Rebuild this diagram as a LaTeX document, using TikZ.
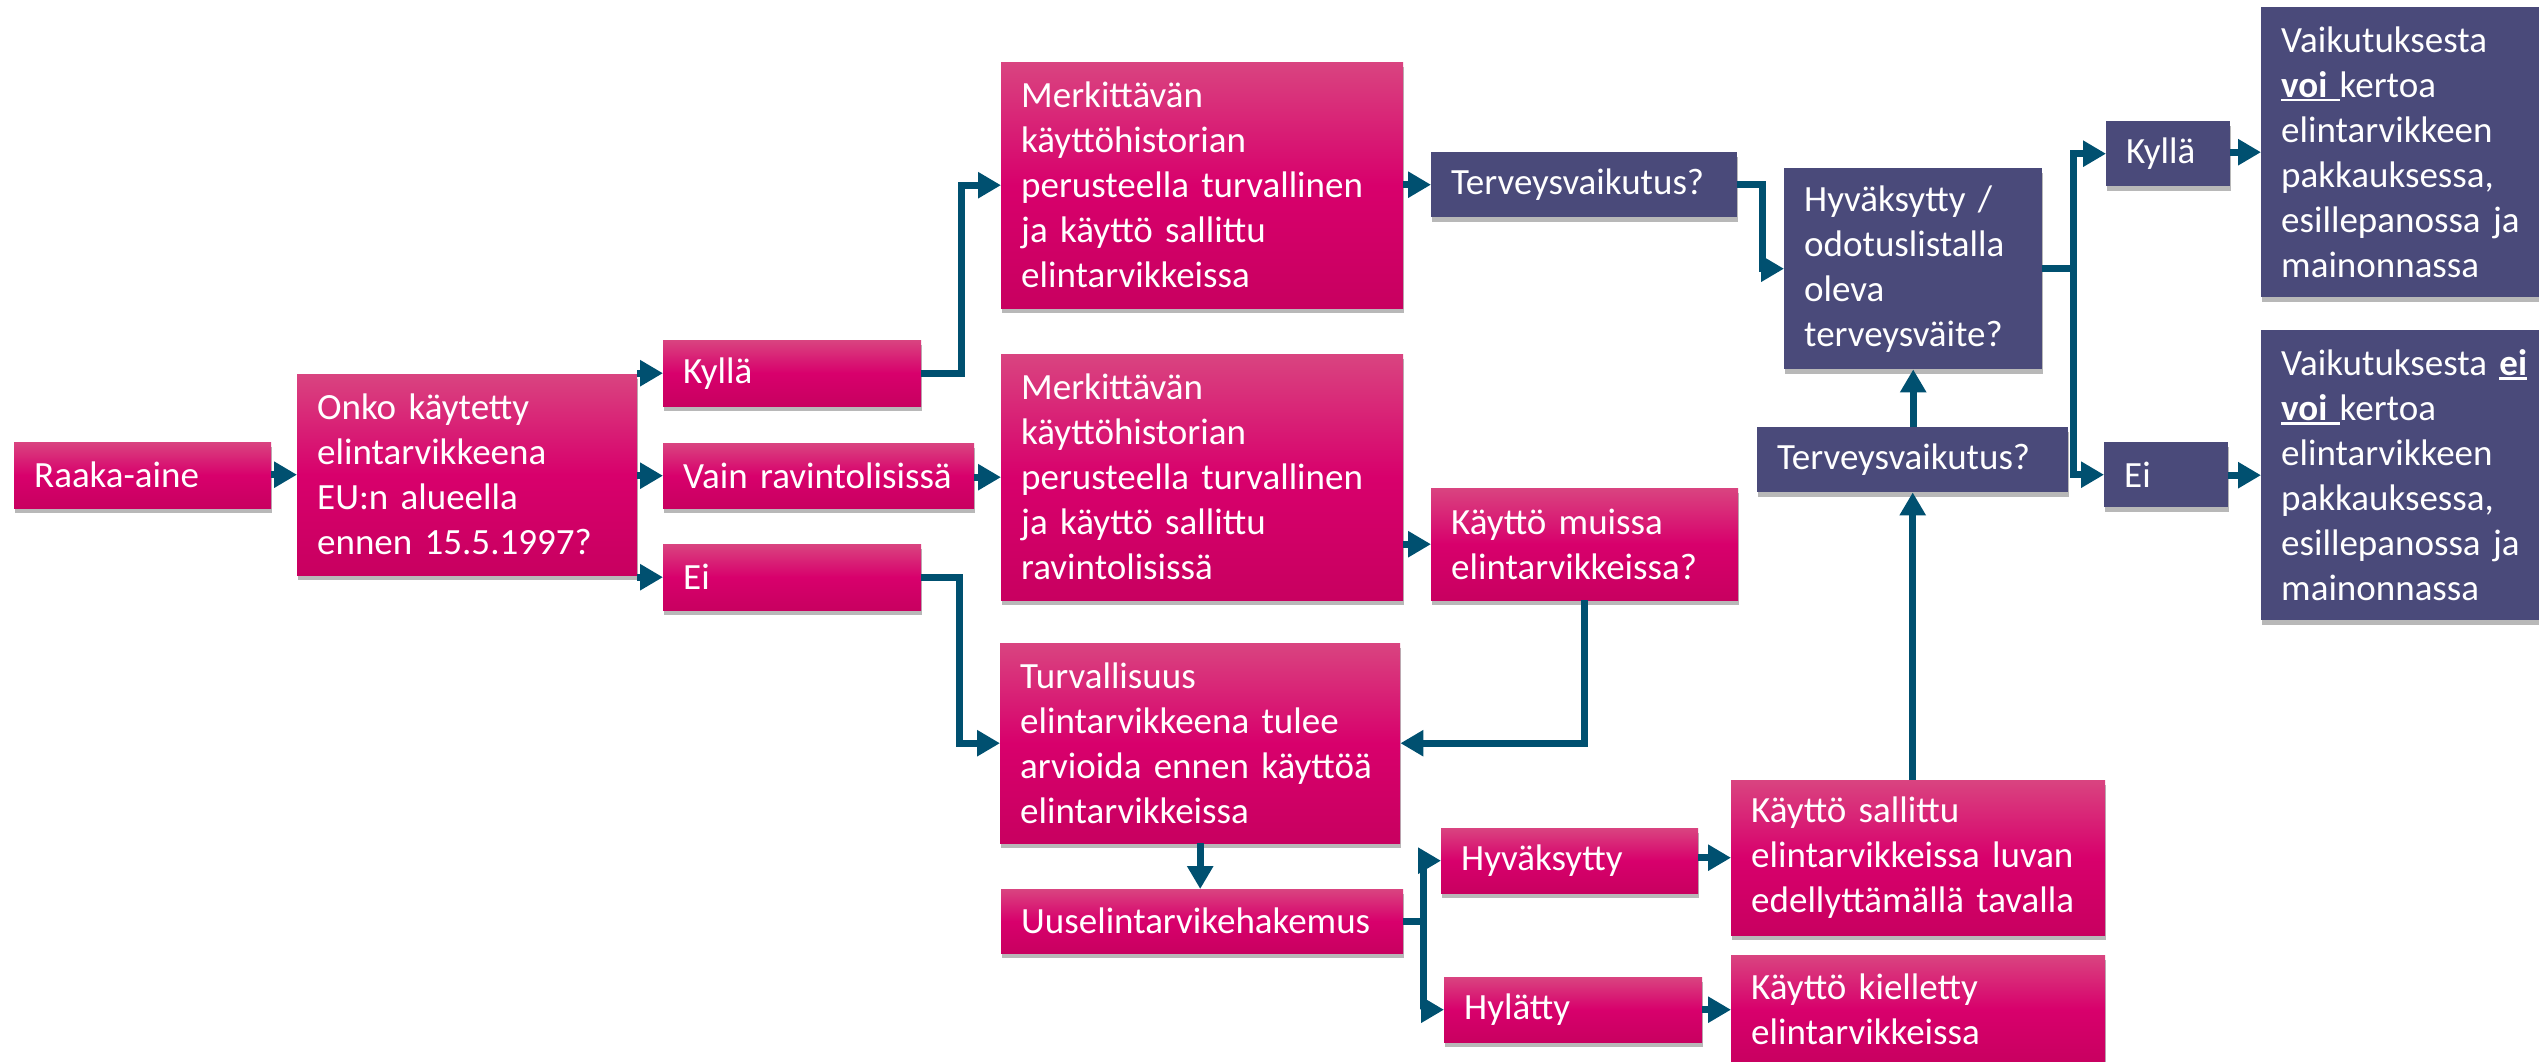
\documentclass[tikz,border=0pt]{standalone}
\usepackage{fontspec}
\setmainfont{Carlito}
\usepackage{xcolor}
\usepackage{tikz}
\usetikzlibrary{shadows}
\usetikzlibrary{arrows.meta}
\usetikzlibrary{calc}
\definecolor{magtop}{RGB}{217,68,128}
\definecolor{magmid}{RGB}{216,0,108}
\definecolor{magbot}{RGB}{200,0,96}
\definecolor{slate}{RGB}{74,74,122}
\definecolor{linkblue}{RGB}{0,80,112}
\tikzstyle{flowbox}=[rectangle,anchor=north west,inner xsep=20pt,inner ysep=0pt,align=left,text=white,font=\fontsize{37}{45}\selectfont,drop shadow={shadow xshift=1pt,shadow yshift=-5pt,opacity=0.28,fill=black}]
\tikzstyle{pinkbox}=[flowbox,top color=magtop,bottom color=magbot,middle color=magmid]
\tikzstyle{slatebox}=[flowbox,fill=slate]
\tikzstyle{link}=[draw,line width=7pt,linkblue,-{Triangle[length=23pt,width=25pt]}]
\newcommand{\ulbold}[1]{\leavevmode\setbox0\hbox{\textbf{#1}}\rlap{\rule[-4pt]{\wd0}{2.5pt}}\box0}

\begin{document}
\begin{tikzpicture}[x=1pt,y=-1pt]

   \useasboundingbox (0,0) rectangle (2539,1061);
   \clip (0,0) rectangle (2539,1061);

   % left column
   \node[pinkbox, text width=217pt, minimum height=66pt] (raaka) at (14,442) {Raaka-aine};
   \node[pinkbox, text width=300pt, minimum height=201pt] (onko) at (297,374) {Onko käytetty\\elintarvikkeena\\EU:n alueella\\ennen 15.5.1997?};
   \node[pinkbox, text width=218pt, minimum height=66pt] (kylla) at (663,340) {Kyllä};
   \node[pinkbox, text width=271pt, minimum height=65pt] (vain) at (663,443) {Vain ravintolisissä};
   \node[pinkbox, text width=218pt, minimum height=66pt] (ei) at (663,544) {Ei};

   % middle column
   \node[pinkbox, text width=362pt, minimum height=246pt] (merkA) at (1001,62) {Merkittävän\\käyttöhistorian\\perusteella turvallinen\\ja käyttö sallittu\\elintarvikkeissa};
   \node[pinkbox, text width=362pt, minimum height=246pt] (merkB) at (1001,354) {Merkittävän\\käyttöhistorian\\perusteella turvallinen\\ja käyttö sallittu\\ravintolisissä};
   \node[pinkbox, text width=360pt, minimum height=200pt] (turv) at (1000,643) {Turvallisuus\\elintarvikkeena tulee\\arvioida ennen käyttöä\\elintarvikkeissa};
   \node[pinkbox, text width=362pt, minimum height=64pt] (uusel) at (1001,889) {Uuselintarvikehakemus};

   \node[slatebox, text width=266pt, minimum height=65pt] (tervA) at (1431,152) {Terveysvaikutus?};
   \node[pinkbox, text width=267pt, minimum height=112pt] (muissa) at (1431,488) {Käyttö muissa\\elintarvikkeissa?};
   \node[pinkbox, text width=217pt, minimum height=65pt] (hyv) at (1441,828) {Hyväksytty};
   \node[pinkbox, text width=218pt, minimum height=65pt] (hyl) at (1444,977) {Hylätty};
   \node[pinkbox, text width=334pt, minimum height=155pt] (sall) at (1731,780) {Käyttö sallittu\\elintarvikkeissa luvan\\edellyttämällä tavalla};
   \node[pinkbox, text width=334pt, minimum height=109pt] (kiell) at (1731,955) {Käyttö kielletty\\elintarvikkeissa};

   % right column
   \node[slatebox, text width=218pt, minimum height=201pt] (vaite) at (1784,168) {Hyväksytty /\\odotuslistalla\\oleva\\terveysväite?};
   \node[slatebox, text width=271pt, minimum height=65pt] (tervB) at (1757,427) {Terveysvaikutus?};
   \node[slatebox, text width=84pt, minimum height=65pt] (kyllaB) at (2106,121) {Kyllä};
   \node[slatebox, text width=84pt, minimum height=65pt] (eiB) at (2104,442) {Ei};
   \node[slatebox, text width=260pt, minimum height=290pt] (voi) at (2261,7) {Vaikutuksesta\\\ulbold{voi }kertoa\\elintarvikkeen\\pakkauksessa,\\esillepanossa ja\\mainonnassa};
   \node[slatebox, text width=260pt, minimum height=290pt] (eivoi) at (2261,330) {Vaikutuksesta \ulbold{ei}\\\ulbold{voi }kertoa\\elintarvikkeen\\pakkauksessa,\\esillepanossa ja\\mainonnassa};

   % straight arrows
   \foreach \source/\dest in {raaka/onko, onko/kylla, onko/vain, onko/ei, vain/merkB, merkA/tervA, merkB/muissa, hyv/sall, hyl/kiell, kyllaB/voi, eiB/eivoi}
         \path[link] (\dest.west -| \source.east) -- (\dest.west);

   % elbow arrows
   \foreach \source/\dest/\off in {kylla/merkA/40, ei/turv/38, uusel/hyv/20, uusel/hyl/20, tervA/vaite/25, vaite/kyllaB/31, vaite/eiB/31}
         \path[link] (\source.east) -- ++(\off,0) |- (\dest.west);

   \path[link] (muissa.south) |- (turv.east);
   \path[link] (turv.south) -- (turv.south |- uusel.north);
   \path[link] (tervB.south |- sall.north) -- (tervB.south);
   \path[link] (vaite.south |- tervB.north) -- (vaite.south);

\end{tikzpicture}
\end{document}
